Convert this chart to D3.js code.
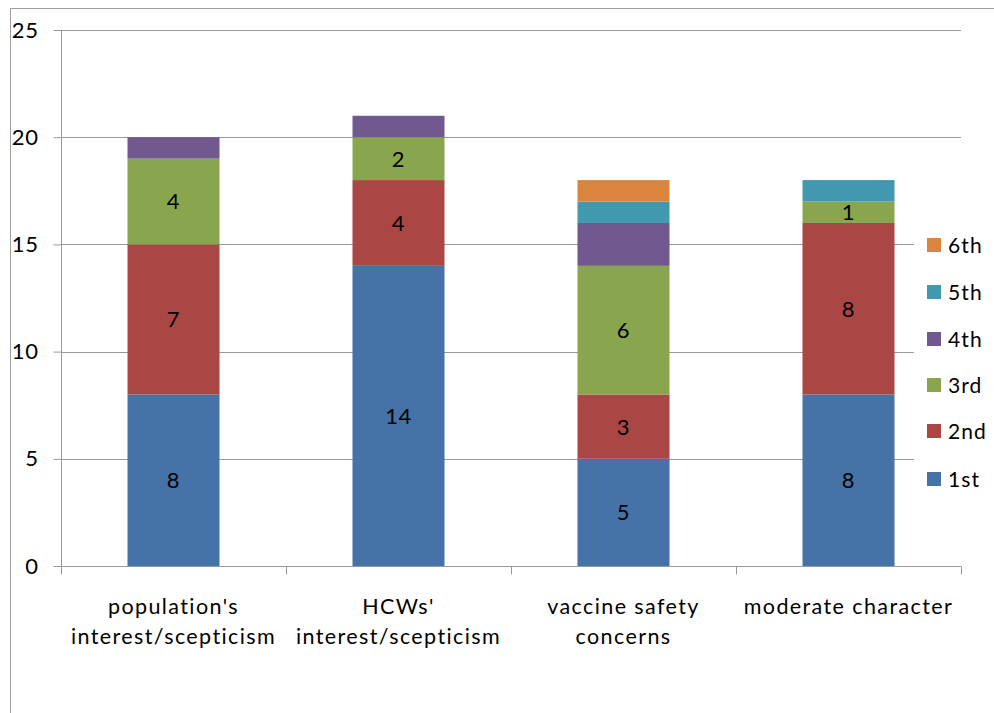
<!DOCTYPE html>
<html>
<head>
<meta charset="utf-8">
<script src="https://cdn.jsdelivr.net/npm/d3@7"></script>
<style>
  html, body { margin: 0; padding: 0; background: #fff; }
  svg { display: block; font-family: Lato, "Open Sans", sans-serif; }
</style>
</head>
<body>
<svg id="chart" width="994" height="713"></svg>
<script>
// Categories (two-line axis labels) and ranking series
const categories = ["population's", "HCWs'", "vaccine safety", "moderate character"];
const categoryLines = [
  ["population's", "interest/scepticism"],
  ["HCWs'", "interest/scepticism"],
  ["vaccine safety", "concerns"],
  ["moderate character"]
];
const seriesNames = ["1st", "2nd", "3rd", "4th", "5th", "6th"];
const first  = [8, 14, 5, 8];
const second = [7, 4, 3, 8];
const third  = [4, 2, 6, 1];
const fourth = [1, 1, 2, 0];
const fifth  = [0, 0, 1, 1];
const sixth  = [0, 0, 1, 0];
const labelled = [true, true, true, false, false, false];
const yTicks = [0, 5, 10, 15, 20, 25];
const colors = ["#4572A7", "#AA4643", "#89A54E", "#71588F", "#4198AF", "#DB843D"];

const allSeries = [first, second, third, fourth, fifth, sixth];
const rows = categories.map((c, i) => {
  const r = { cat: c };
  seriesNames.forEach((s, j) => r[s] = allSeries[j][i]);
  return r;
});

const svg = d3.select("#chart");
const plotLeft = 61, plotRight = 961, plotTop = 30, plotBottom = 566;

// Outer chart frame
svg.append("rect").attr("x", 10.5).attr("y", 8.5).attr("width", 1000).attr("height", 1000)
  .attr("fill", "none").attr("stroke", "#a0a0a0").attr("stroke-width", 1);

const x = d3.scaleBand().domain(categories).range([plotLeft, plotRight]).paddingInner(0).paddingOuter(0);
const y = d3.scaleLinear().domain([0, 25]).range([plotBottom, plotTop]);
const barW = 92;

// Horizontal gridlines
svg.append("g").selectAll("line").data(yTicks.filter(t => t > 0)).join("line")
  .attr("x1", plotLeft).attr("x2", plotRight)
  .attr("y1", d => Math.round(y(d)) + 0.5).attr("y2", d => Math.round(y(d)) + 0.5)
  .attr("stroke", "#999").attr("stroke-width", 1);

// Stacked bars
const stack = d3.stack().keys(seriesNames)(rows);
const gBars = svg.append("g");
stack.forEach((layer, j) => {
  gBars.append("g").attr("fill", colors[j]).selectAll("rect").data(layer).join("rect")
    .attr("x", d => x(d.data.cat) + x.bandwidth() / 2 - barW / 2)
    .attr("width", barW)
    .attr("y", d => y(d[1]))
    .attr("height", d => y(d[0]) - y(d[1]));
});

// Value labels for the first three ranks
const gLab = svg.append("g").attr("font-size", 22).attr("fill", "#000").attr("text-anchor", "middle")
  .attr("letter-spacing", 0.6);
stack.forEach((layer, j) => {
  if (!labelled[j]) return;
  gLab.selectAll(null).data(layer.filter(d => d[1] - d[0] > 0)).join("text")
    .attr("x", d => x(d.data.cat) + x.bandwidth() / 2)
    .attr("y", d => (y(d[0]) + y(d[1])) / 2)
    .attr("dy", "0.36em")
    .text(d => d[1] - d[0]);
});

// Y axis
const yAxis = svg.append("g").attr("transform", `translate(${plotLeft + 0.5},0)`)
  .call(d3.axisLeft(y).tickValues(yTicks).tickSize(8).tickPadding(15));
yAxis.select(".domain").attr("stroke", "#999").attr("d", `M-0,${plotTop}V${plotBottom}`);
yAxis.selectAll(".tick line").attr("stroke", "#999");
yAxis.selectAll(".tick text").attr("font-size", 22).attr("fill", "#000")
  .attr("font-family", "Lato, sans-serif").attr("letter-spacing", 0.6);

// X axis
const xAxis = svg.append("g").attr("transform", `translate(0,${plotBottom + 0.5})`);
xAxis.append("line").attr("x1", plotLeft).attr("x2", plotRight).attr("stroke", "#999");
const bounds = [plotLeft].concat(categories.map(c => x(c) + x.bandwidth()));
xAxis.selectAll("line.tk").data(bounds).join("line").attr("class", "tk")
  .attr("x1", d => Math.round(d) + 0.5).attr("x2", d => Math.round(d) + 0.5)
  .attr("y1", 0).attr("y2", 8).attr("stroke", "#999");

const gCat = svg.append("g").attr("font-size", 21.5).attr("text-anchor", "middle").attr("fill", "#000")
  .attr("letter-spacing", 1.4);
categories.forEach((c, i) => {
  const t = gCat.append("text").attr("x", x(c) + x.bandwidth() / 2).attr("y", 614);
  categoryLines[i].forEach((ln, k) => {
    t.append("tspan").attr("x", x(c) + x.bandwidth() / 2).attr("dy", k === 0 ? 0 : 30).text(ln);
  });
});

// Legend
const leg = svg.append("g");
leg.append("rect").attr("x", 914).attr("y", 226).attr("width", 47).attr("height", 272).attr("fill", "#fff");
const legY = [479, 431, 385, 339, 292, 245];
seriesNames.forEach((s, j) => {
  const g = leg.append("g").attr("transform", `translate(927,${legY[j]})`);
  g.append("rect").attr("x", 0).attr("y", -7).attr("width", 14).attr("height", 14).attr("fill", colors[j]);
  g.append("text").attr("x", 21).attr("y", 0).attr("dy", "0.36em").attr("font-size", 21)
    .attr("letter-spacing", 1.1).text(s);
});
</script>
</body>
</html>
